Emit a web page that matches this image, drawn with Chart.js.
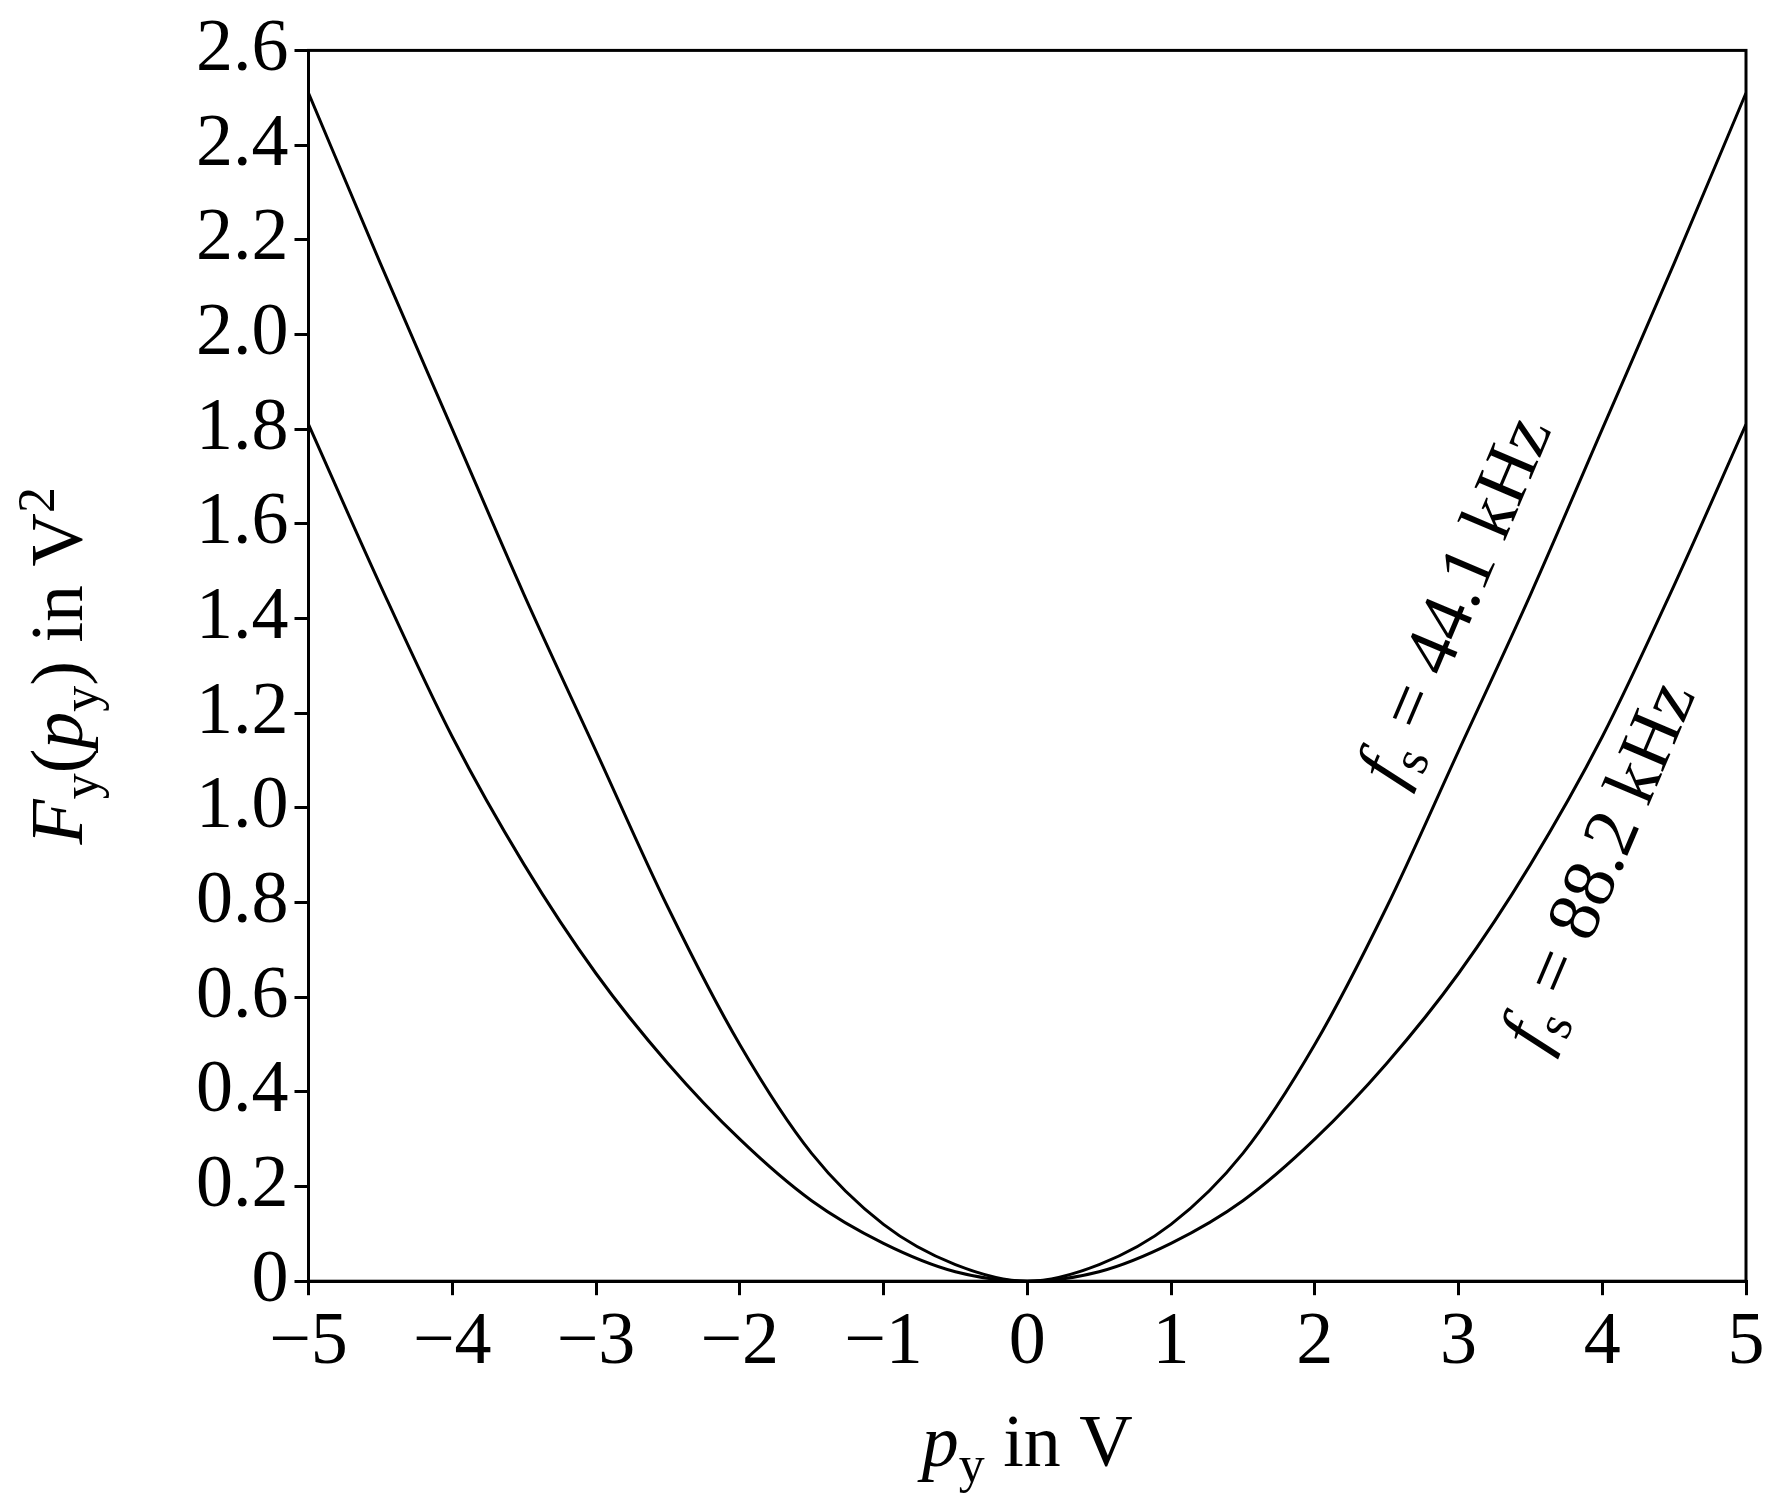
<!DOCTYPE html>
<html>
<head>
<meta charset="utf-8">
<script src="https://cdn.jsdelivr.net/npm/chart.js@4/dist/chart.umd.min.js"></script>
<style>
  html, body { margin: 0; background: #fff; }
  #wrap { width: 1772px; height: 1507px; }
</style>
</head>
<body>
<div id="wrap"><canvas id="c"></canvas></div>
<script>
// values
const xs = [-5, -4.5, -4, -3.5, -3, -2.5, -2, -1.5, -1, -0.5, 0, 0.5, 1, 1.5, 2, 2.5, 3, 3.5, 4, 4.5, 5];
const fs441 = [2.51, 2.15, 1.8, 1.45, 1.12, 0.79, 0.5, 0.27, 0.12, 0.035, 0, 0.035, 0.12, 0.27, 0.5, 0.79, 1.12, 1.45, 1.8, 2.15, 2.51];
const fs882 = [1.81, 1.47, 1.15, 0.88, 0.65, 0.46, 0.3, 0.17, 0.08, 0.02, 0, 0.02, 0.08, 0.17, 0.3, 0.46, 0.65, 0.88, 1.15, 1.47, 1.81];
const curveLabels = [
  { text: "44.1", x: 3.12, y: 1.42 },
  { text: "88.2", x: 4.12, y: 0.86 }
];

const SERIF = '"Liberation Serif", "DejaVu Serif", serif';
const FS = 74;
const pts = arr => xs.map((x, i) => ({ x, y: arr[i] }));

function drawRich(ctx, segs, size) {
  // draws at current origin, centred horizontally
  let w = 0;
  segs.forEach(s => {
    const sz = (s.sub || s.sup) ? size * 0.7 : size;
    ctx.font = (s.it ? "italic " : "") + sz + "px " + SERIF;
    s.w = ctx.measureText(s.t).width;
    s.sz = sz;
    w += s.w;
  });
  let x = -w / 2;
  segs.forEach(s => {
    ctx.font = (s.it ? "italic " : "") + s.sz + "px " + SERIF;
    let dy = s.sub ? size * 0.22 : (s.sup ? -size * 0.38 : 0);
    ctx.fillText(s.t, x, dy);
    x += s.w;
  });
}

const extras = {
  id: "extras",
  afterDraw(chart) {
    const { ctx, chartArea: a, scales } = chart;
    ctx.save();
    ctx.strokeStyle = "#000";
    ctx.lineWidth = 3;
    ctx.strokeRect(a.left, a.top, a.right - a.left, a.bottom - a.top);
    ctx.fillStyle = "#000";
    ctx.textBaseline = "alphabetic";

    // x title
    ctx.save();
    ctx.translate((a.left + a.right) / 2, a.bottom + 185);
    drawRich(ctx, [{ t: "p", it: true }, { t: "y", sub: true }, { t: " in V" }], FS);
    ctx.restore();

    // y title
    ctx.save();
    ctx.translate(82, (a.top + a.bottom) / 2);
    ctx.rotate(-Math.PI / 2);
    drawRich(ctx, [{ t: "F", it: true }, { t: "y", sub: true }, { t: "(" }, { t: "p", it: true },
      { t: "y", sub: true }, { t: ") in V" }, { t: "2", sup: true }], FS);
    ctx.restore();

    // curve labels
    curveLabels.forEach(l => {
      ctx.save();
      ctx.translate(scales.x.getPixelForValue(l.x), scales.y.getPixelForValue(l.y));
      ctx.rotate(-67 * Math.PI / 180);
      drawRich(ctx, [{ t: "f", it: true }, { t: "s", sub: true }, { t: " = " + l.text + " kHz" }], FS);
      ctx.restore();
    });
    ctx.restore();
  }
};

new Chart(document.getElementById("c"), {
  type: "scatter",
  data: {
    datasets: [
      { data: pts(fs441), showLine: true, cubicInterpolationMode: "monotone", borderColor: "#000", borderWidth: 3, pointRadius: 0 },
      { data: pts(fs882), showLine: true, cubicInterpolationMode: "monotone", borderColor: "#000", borderWidth: 3, pointRadius: 0 }
    ]
  },
  options: {
    responsive: true,
    maintainAspectRatio: false,
    animation: false,
    devicePixelRatio: 1,
    layout: { padding: { left: 190, right: 26, top: 45, bottom: 115 } },
    plugins: { legend: { display: false }, tooltip: { enabled: false } },
    scales: {
      x: {
        type: "linear", min: -5, max: 5,
        border: { color: "#000", width: 3 },
        grid: { drawOnChartArea: false, color: "#000", lineWidth: 3, tickLength: 14 },
        ticks: {
          stepSize: 1, color: "#000", padding: 4,
          font: { family: SERIF, size: FS },
          callback: v => (v < 0 ? "\u2212" + (-v) : String(v))
        }
      },
      y: {
        min: 0, max: 2.6,
        border: { color: "#000", width: 3 },
        grid: { drawOnChartArea: false, color: "#000", lineWidth: 3, tickLength: 14 },
        ticks: {
          stepSize: 0.2, color: "#000", padding: 6,
          font: { family: SERIF, size: FS },
          callback: v => (Math.abs(v) < 1e-9 ? "0" : v.toFixed(1))
        }
      }
    }
  },
  plugins: [extras]
});
</script>
</body>
</html>
